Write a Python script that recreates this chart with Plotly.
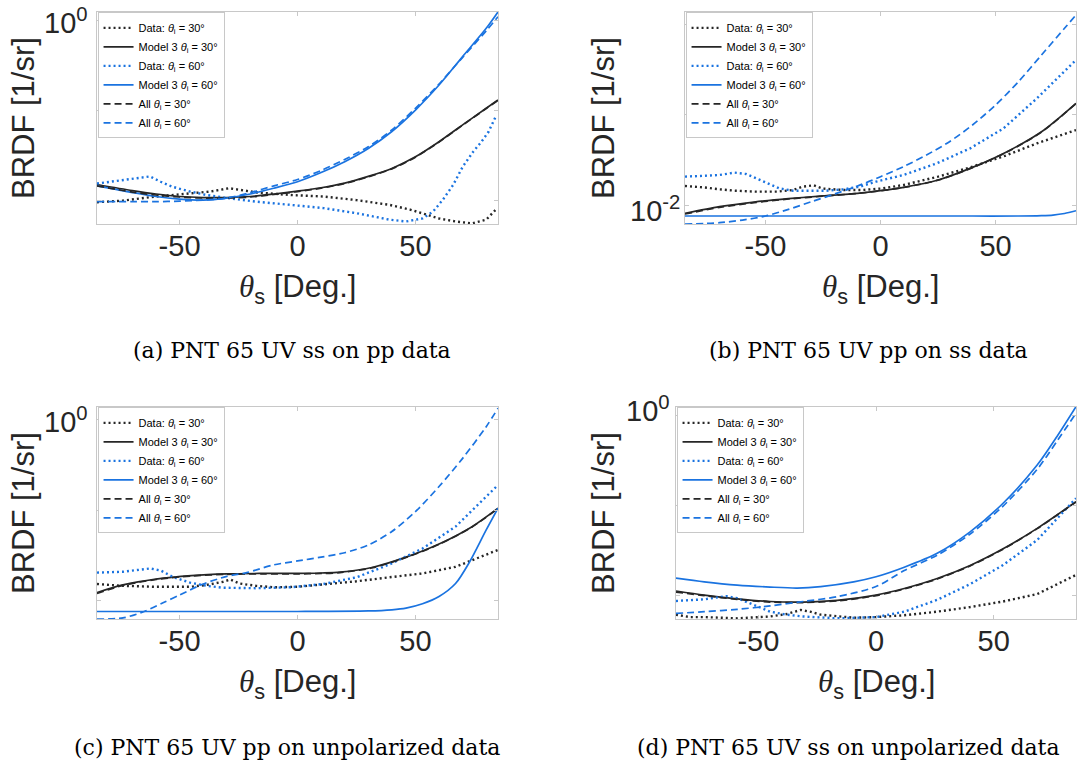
import plotly.graph_objects as go

W, H = 1087, 768
BLACK = "#262626"
BLUE = "#1a73e0"
AXIS_GREY = "#c8c8c8"
TEXT = "#262626"

# ---------------- data: scattering angle [deg] -> BRDF [1/sr] ----------------
# (a) PNT 65 UV ss on pp data
a_theta_fit = [-85, -70, -60, -50, -40, -30, -20, -10, 0, 10, 20, 30, 40, 50, 60, 70, 80, 85]
a_model30 = [0.283, 0.270, 0.263, 0.258, 0.256, 0.256, 0.258, 0.263, 0.269, 0.276, 0.286, 0.301, 0.320, 0.350, 0.393, 0.447, 0.508, 0.541]
a_all30 = [0.280, 0.267, 0.261, 0.257, 0.255, 0.255, 0.257, 0.262, 0.268, 0.275, 0.285, 0.300, 0.319, 0.349, 0.392, 0.446, 0.507, 0.540]
a_model60 = [0.280, 0.266, 0.258, 0.253, 0.251, 0.255, 0.263, 0.275, 0.289, 0.310, 0.337, 0.373, 0.425, 0.501, 0.607, 0.755, 0.938, 1.064]
a_all60 = [0.248, 0.248, 0.248, 0.249, 0.251, 0.255, 0.266, 0.280, 0.294, 0.315, 0.343, 0.378, 0.430, 0.508, 0.612, 0.751, 0.920, 1.026]
a_theta_data30 = [-85, -74, -60, -46, -37, -29, -24, -17, -3, 11, 25, 39, 48, 60, 67, 74, 80, 84]
a_data30 = [0.247, 0.250, 0.258, 0.264, 0.268, 0.275, 0.271, 0.266, 0.261, 0.258, 0.251, 0.242, 0.233, 0.218, 0.213, 0.210, 0.216, 0.233]
a_theta_data60 = [-85, -79.5, -74, -67, -62.5, -58, -53, -45.5, -38.5, -31.5, -24.5, -17.5, -3, 11, 25, 39, 46, 53, 57.5, 61.5, 66, 70, 74.5, 78, 81, 84]
a_data60 = [0.285, 0.289, 0.293, 0.297, 0.301, 0.289, 0.278, 0.268, 0.261, 0.256, 0.252, 0.248, 0.242, 0.236, 0.227, 0.216, 0.213, 0.218, 0.230, 0.251, 0.282, 0.324, 0.364, 0.393, 0.424, 0.476]

# (b) PNT 65 UV pp on ss data
b_theta_fit = [-85, -70, -60, -50, -40, -30, -20, -10, 0, 10, 20, 30, 40, 50, 60, 70, 80, 85]
b_all60 = [0.00864, 0.00873, 0.00891, 0.00919, 0.00967, 0.01026, 0.01088, 0.01157, 0.01243, 0.01342, 0.01468, 0.01626, 0.01848, 0.02154, 0.02577, 0.03162, 0.03881, 0.04298]
b_theta_model60 = [-85, -40, 0, 40, 60, 70, 75, 80, 85]
b_model60 = [0.00919, 0.00919, 0.00919, 0.00919, 0.00919, 0.00922, 0.00926, 0.00937, 0.00957]
b_theta_model30 = [-85, -70, -55, -40, -25, -10, 0, 10, 25, 40, 55, 70, 85]
b_model30 = [0.00938, 0.00987, 0.01023, 0.01050, 0.01072, 0.01094, 0.01116, 0.01145, 0.01212, 0.01335, 0.01506, 0.01755, 0.02183]
b_all30 = [0.00933, 0.00982, 0.01018, 0.01047, 0.01070, 0.01093, 0.01115, 0.01144, 0.01210, 0.01332, 0.01502, 0.01750, 0.02178]
b_theta_data30 = [-85, -77, -70, -63, -54, -45, -38, -34, -29, -25, -16, -8, 1, 10, 25, 39, 54, 68, 85]
b_data30 = [0.01157, 0.01145, 0.01128, 0.01116, 0.01108, 0.01108, 0.01122, 0.01151, 0.01163, 0.01134, 0.01122, 0.01122, 0.01136, 0.01166, 0.01243, 0.01335, 0.01457, 0.01605, 0.01778]
b_theta_data60 = [-85, -77, -70, -63.5, -58.5, -54, -48, -44, -38, -31, -23.5, -16, -9, -2, 10, 24.5, 39, 53.5, 68, 85]
b_data60 = [0.01243, 0.01249, 0.01259, 0.01282, 0.01269, 0.01227, 0.01175, 0.01136, 0.01116, 0.01116, 0.01116, 0.01128, 0.01151, 0.01196, 0.01259, 0.01377, 0.01545, 0.01801, 0.02267, 0.03044]

# (c) PNT 65 UV pp on unpolarized data
c_theta_all60 = [-85, -74, -65, -57, -50, -40, -30, -21.5, -10, 0, 10, 20, 30, 40, 50, 60, 70, 80, 85]
c_all60 = [0.217, 0.219, 0.230, 0.246, 0.261, 0.284, 0.301, 0.310, 0.329, 0.339, 0.349, 0.361, 0.383, 0.425, 0.495, 0.600, 0.745, 0.950, 1.094]
c_theta_model60 = [-85, -40, 0, 30, 40, 46, 53, 60, 67, 73, 80, 85]
c_model60 = [0.230, 0.230, 0.230, 0.231, 0.233, 0.236, 0.244, 0.258, 0.285, 0.337, 0.430, 0.508]
c_theta_model30 = [-85, -74, -60, -45, -30, -15, 0, 10, 18, 32, 46, 60, 74, 85]
c_model30 = [0.266, 0.282, 0.295, 0.303, 0.307, 0.308, 0.308, 0.309, 0.311, 0.323, 0.349, 0.386, 0.441, 0.508]
c_all30 = [0.264, 0.281, 0.294, 0.302, 0.306, 0.307, 0.307, 0.308, 0.310, 0.322, 0.348, 0.385, 0.440, 0.507]
c_theta_data30 = [-85, -74, -60, -45.5, -38.5, -31.5, -28.5, -24.5, -17.5, -10, 0, 11, 25, 39, 53, 67, 85]
c_data30 = [0.284, 0.280, 0.278, 0.278, 0.282, 0.289, 0.294, 0.285, 0.280, 0.277, 0.278, 0.283, 0.290, 0.299, 0.308, 0.324, 0.369]
c_theta_data60 = [-85, -74, -62.5, -58, -52.5, -45.5, -38.5, -31.5, -17.5, -3, 11, 25, 39, 53, 67, 85]
c_data60 = [0.310, 0.312, 0.320, 0.315, 0.299, 0.287, 0.280, 0.276, 0.275, 0.277, 0.284, 0.299, 0.330, 0.373, 0.441, 0.607]

# (d) PNT 65 UV ss on unpolarized data
d_theta_model60 = [-85, -73, -59, -45, -33.5, -23.5, -9.5, 0, 12, 26, 40, 54, 68.5, 77, 85]
d_model60 = [0.286, 0.278, 0.271, 0.267, 0.265, 0.268, 0.278, 0.289, 0.311, 0.346, 0.408, 0.508, 0.681, 0.850, 1.066]
d_theta_all60 = [-85, -73, -59, -45, -31, -16.5, 0, 12, 26, 40, 54, 68.5, 77, 85]
d_all60 = [0.218, 0.221, 0.225, 0.231, 0.239, 0.248, 0.268, 0.303, 0.341, 0.401, 0.497, 0.659, 0.820, 1.013]
d_theta_model30 = [-85, -73, -59, -45, -31, -16.5, 0, 12, 26, 40, 54, 68.5, 85]
d_model30 = [0.259, 0.251, 0.244, 0.239, 0.238, 0.241, 0.251, 0.264, 0.285, 0.315, 0.358, 0.419, 0.514]
d_all30 = [0.257, 0.250, 0.243, 0.238, 0.237, 0.240, 0.250, 0.263, 0.284, 0.314, 0.357, 0.418, 0.513]
d_theta_data30 = [-85, -79, -73, -59, -45, -38, -32, -28, -23.5, -16.5, -9.5, 0, 12, 26, 40, 54, 68.5, 85]
d_data30 = [0.216, 0.212, 0.212, 0.210, 0.213, 0.217, 0.224, 0.221, 0.216, 0.213, 0.211, 0.212, 0.215, 0.221, 0.229, 0.239, 0.253, 0.293]
d_theta_data60 = [-85, -73, -63.5, -59, -52, -45, -38, -31, -16.5, 0, 12, 26, 40, 54, 68.5, 85]
d_data60 = [0.240, 0.243, 0.249, 0.245, 0.233, 0.221, 0.216, 0.213, 0.210, 0.212, 0.221, 0.242, 0.273, 0.316, 0.383, 0.528]

x_ticks = [-50, 0, 50]
x_tick_text = ["-50", "0", "50"]
y_label_text = ["10<sup>0</sup>", "10<sup>-2</sup>", "10<sup>0</sup>", "10<sup>0</sup>"]
captions = [
    "(a) PNT 65 UV ss on pp data",
    "(b) PNT 65 UV pp on ss data",
    "(c) PNT 65 UV pp on unpolarized data",
    "(d) PNT 65 UV ss on unpolarized data",
]

# ---------------- layout geometry (pixels) ----------------
# plot boxes: (left, right, top, bottom)
boxes = [(97, 498, 12, 224), (685, 1076, 12, 224), (97, 498, 407, 619), (676, 1076, 407, 619)]
y_ranges = [[-0.680, 0.0267], [-2.0633, -1.3567], [-0.6633, 0.0433], [-0.680, 0.0267]]
y_tickvals = [[0.25, 0.5, 1.0], [0.01, 0.02, 0.04], [0.25, 0.5, 1.0], [0.25, 0.5, 1.0]]
# decade label anchor: (right edge x, centre y)
y_label_pos = [(90, 21), (682, 209), (90, 420), (672, 409)]
y_title_x = [23, 603, 23, 603]
caption_pos = [(292, 350), (868, 350), (287, 747), (848, 747)]

panels = [
    dict(d30=(a_theta_data30, a_data30), m30=(a_theta_fit, a_model30), d60=(a_theta_data60, a_data60),
         m60=(a_theta_fit, a_model60), a30=(a_theta_fit, a_all30), a60=(a_theta_fit, a_all60)),
    dict(d30=(b_theta_data30, b_data30), m30=(b_theta_model30, b_model30), d60=(b_theta_data60, b_data60),
         m60=(b_theta_model60, b_model60), a30=(b_theta_model30, b_all30), a60=(b_theta_fit, b_all60)),
    dict(d30=(c_theta_data30, c_data30), m30=(c_theta_model30, c_model30), d60=(c_theta_data60, c_data60),
         m60=(c_theta_model60, c_model60), a30=(c_theta_model30, c_all30), a60=(c_theta_all60, c_all60)),
    dict(d30=(d_theta_data30, d_data30), m30=(d_theta_model30, d_model30), d60=(d_theta_data60, d_data60),
         m60=(d_theta_model60, d_model60), a30=(d_theta_model30, d_all30), a60=(d_theta_all60, d_all60)),
]

TH = "<i>θ</i><sub>i</sub>"
styles = [
    ("d30", f"Data: {TH} = 30°", BLACK, "2px,3px", 2.4, "linear"),
    ("m30", f"Model 3 {TH} = 30°", BLACK, "solid", 1.7, "spline"),
    ("d60", f"Data: {TH} = 60°", BLUE, "2px,3px", 2.4, "linear"),
    ("m60", f"Model 3 {TH} = 60°", BLUE, "solid", 1.7, "spline"),
    ("a30", f"All {TH} = 30°", BLACK, "7px,4px", 1.7, "spline"),
    ("a60", f"All {TH} = 60°", BLUE, "7px,4px", 1.7, "spline"),
]

fig = go.Figure()
layout = dict(
    width=W, height=H, margin=dict(l=0, r=0, t=0, b=0),
    paper_bgcolor="white", plot_bgcolor="white", showlegend=True,
    font=dict(family="Liberation Sans, Arial, sans-serif", color=TEXT),
)
annotations = []

for i, (panel, box) in enumerate(zip(panels, boxes)):
    n = "" if i == 0 else str(i + 1)
    xa, ya, lg = f"x{n}", f"y{n}", f"legend{n}"
    left, right, top, bottom = box
    for key, name, color, dash, width, shape in styles:
        xs, ys = panel[key]
        fig.add_trace(go.Scatter(
            x=xs, y=ys, name=name, mode="lines", xaxis=xa, yaxis=ya, legend=lg,
            line=dict(color=color, dash=dash, width=width, shape=shape, smoothing=0.8),
            hoverinfo="skip",
        ))
    layout[f"xaxis{n}"] = dict(
        domain=[left / W, right / W], anchor=ya, range=[-85, 85],
        tickvals=x_ticks, ticktext=x_tick_text, ticks="inside", ticklen=4,
        tickcolor=AXIS_GREY, showline=True, linecolor=AXIS_GREY, linewidth=1,
        mirror="allticks", showgrid=False, zeroline=False,
        tickfont=dict(size=29, color=TEXT), ticklabelstandoff=-4,
    )
    layout[f"yaxis{n}"] = dict(
        domain=[1 - bottom / H, 1 - top / H], anchor=xa, type="log", range=y_ranges[i],
        tickvals=y_tickvals[i], ticktext=["", "", ""], ticks="inside", ticklen=4,
        tickcolor=AXIS_GREY, showline=True, linecolor=AXIS_GREY, linewidth=1,
        mirror="allticks", showgrid=False, zeroline=False,
    )
    layout[lg] = dict(
        x=left / W + 0.0005, y=1 - top / H - 0.0005, xanchor="left", yanchor="top",
        xref="paper", yref="paper", bgcolor="white", bordercolor=AXIS_GREY, borderwidth=1,
        font=dict(size=11, color="black"), itemwidth=30, tracegroupgap=0,
        itemclick=False, itemdoubleclick=False,
    )
    cx = (left + right) / 2
    cy = (top + bottom) / 2
    lx, ly = y_label_pos[i]
    annotations.append(dict(
        text=y_label_text[i], x=lx / W, y=1 - ly / H, xref="paper", yref="paper",
        showarrow=False, xanchor="right", yanchor="middle",
        font=dict(size=29, color=TEXT),
    ))
    annotations.append(dict(
        text="BRDF [1/sr]", x=y_title_x[i] / W, y=1 - cy / H, xref="paper", yref="paper",
        textangle=-90, showarrow=False, xanchor="center", yanchor="middle",
        font=dict(size=31, color=TEXT),
    ))
    annotations.append(dict(
        text='<span style="font-family:Liberation Serif"><i>θ</i></span><sub>s</sub> [Deg.]',
        x=cx / W, y=1 - (bottom + 65) / H, xref="paper", yref="paper",
        showarrow=False, xanchor="center", yanchor="middle",
        font=dict(size=31, color=TEXT),
    ))
    capx, capy = caption_pos[i]
    annotations.append(dict(
        text=captions[i], x=capx / W, y=1 - capy / H, xref="paper", yref="paper",
        showarrow=False, xanchor="center", yanchor="middle",
        font=dict(size=22, color="black", family="DejaVu Serif, serif"),
    ))

layout["annotations"] = annotations
fig.update_layout(**layout)
fig.write_html("out.html")
